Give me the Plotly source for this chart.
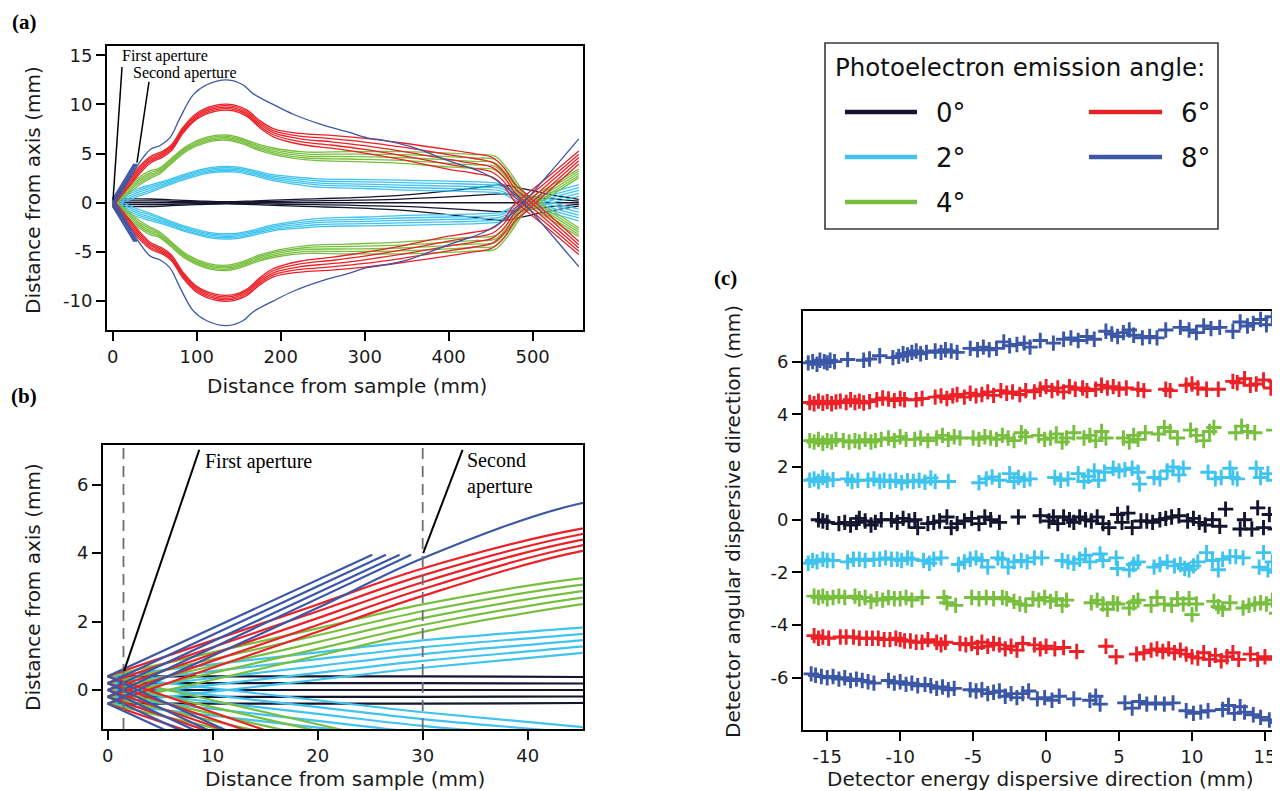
import plotly.graph_objects as go

# the page places the plot 8 px from the top-left corner of the window
OFF = 8
W, H = 1280 - OFF, 791 - OFF

# ---------------- colours ----------------
COL_0 = "#15152f"
COL_2 = "#3fc3ef"
COL_4 = "#79bf3f"
COL_6 = "#ec2127"
COL_8 = "#3b57a6"

# ---------------- ray-trace data (upper branch) ----------------
# five rays per angle, placed inside each band at these fractions of the half-width
RAY_FRAC = [1.0, 0.5, 0.0, -0.5, -1.0]

# 0 deg (single branch)
X_K0 = [0, 10, 20, 30, 45, 70, 100, 135, 170, 200, 240, 280, 343, 400, 440, 465, 490, 520, 555]
C_K0 = [0, 0, 0, 0, 0, 0, 0, 0, 0, 0, 0, 0, 0, 0, 0, 0, 0, 0, 0]
S_K0 = [0.4, 0.4, 0.4, 0.4, 0.38, 0.3, 0.2, 0.1, 0.2, 0.3, 0.4, 0.5, 0.75, 1.2, 1.6, 1.8, 1.4, 0.85, 0.35]

# 2 deg
X_C2 = [0, 10, 20, 30, 45, 64, 88, 116, 144, 167, 191, 223, 247, 300, 343, 400, 440, 462, 480, 500, 555]
C_C2 = [0, 0.35, 0.7, 1.05, 1.45, 2.0, 2.7, 3.3, 3.4, 3.05, 2.55, 2.2, 2.0, 1.9, 1.8, 1.7, 1.6, 1.45, 0.7, 0.05, -1.25]
S_C2 = [0.4, 0.4, 0.4, 0.4, 0.37, 0.28, 0.27, 0.27, 0.27, 0.27, 0.3, 0.38, 0.42, 0.45, 0.5, 0.5, 0.5, 0.48, 0.45, 0.5, 0.6]

# 4 deg
X_G4 = [0, 10, 20, 30, 45, 55, 68, 88, 112, 136, 155, 175, 199, 231, 280, 343, 400, 430, 455, 470, 490, 510, 555]
C_G4 = [0, 0.7, 1.4, 2.1, 2.88, 3.2, 4.1, 5.5, 6.4, 6.62, 6.25, 5.6, 5.1, 4.75, 4.7, 4.6, 4.35, 4.2, 4.05, 2.8, 0.5, -0.6, -3.0]
S_G4 = [0.4, 0.4, 0.4, 0.4, 0.38, 0.3, 0.27, 0.27, 0.27, 0.27, 0.27, 0.3, 0.34, 0.4, 0.5, 0.6, 0.7, 0.7, 0.7, 0.65, 0.6, 0.55, 0.45]

# 6 deg
X_R6 = [0, 10, 20, 30, 45, 60, 70, 84, 100, 122, 144, 160, 175, 192, 223, 260, 300, 343, 400, 430, 452, 466, 478, 490, 520, 555]
C_R6 = [0, 1.05, 2.1, 3.15, 4.38, 4.95, 5.6, 7.4, 8.8, 9.6, 9.65, 9.1, 8.0, 7.1, 6.5, 6.2, 5.8, 5.25, 4.4, 4.0, 3.6, 2.6, 1.1, 0.2, -2.0, -4.6]
S_R6 = [0.4, 0.4, 0.4, 0.4, 0.33, 0.3, 0.3, 0.3, 0.3, 0.3, 0.3, 0.32, 0.36, 0.42, 0.55, 0.65, 0.75, 0.85, 1.0, 1.0, 1.0, 0.95, 0.9, 0.85, 0.75, 0.65]

# 8 deg: four rays stopped before the second aperture, one transmitted
B8_BLOCK_Y0 = [0.4, 0.2, 0.0, -0.2]
B8_BLOCK_XEND = [25.2, 26.5, 27.8, 28.9]
B8_BLOCK_YEND = 3.95
X_B8 = [0, 10, 20, 30, 45, 56, 68, 80, 96, 112, 136, 155, 167, 191, 215, 247, 280, 303, 323, 355, 402, 442, 470, 489, 520, 555]
Y_B8 = [-0.4, 1.0, 2.4, 3.85, 5.45, 5.8, 6.6, 8.6, 11.0, 12.0, 12.5, 12.0, 11.1, 10.0, 9.0, 8.0, 7.2, 6.6, 6.35, 5.7, 4.2, 3.0, 1.5, 0.0, -3.0, -6.5]

# ---------------- detector image data (panel c) ----------------
C_P8 = [(-16.3, 5.95), (-16.0, 6.0), (-15.7, 5.9), (-15.5, 6.05), (-15.2, 6.0), (-15.0, 5.95), (-14.8, 6.05), (-14.5, 6.0),
        (-13.6, 6.08), (-12.5, 6.05), (-12.1, 6.1), (-11.4, 6.22),
        (-10.5, 6.15), (-10.1, 6.2), (-9.8, 6.3), (-9.5, 6.25), (-9.2, 6.35), (-8.9, 6.4), (-8.6, 6.3), (-8.2, 6.35),
        (-7.6, 6.4), (-7.2, 6.35), (-6.9, 6.45), (-6.5, 6.4), (-6.1, 6.35),
        (-5.2, 6.5), (-4.7, 6.45), (-4.3, 6.55), (-3.9, 6.45), (-3.4, 6.5),
        (-2.9, 6.75), (-2.5, 6.6), (-2.0, 6.65), (-1.5, 6.7), (-1.1, 6.55),
        (-0.4, 6.8), (0.5, 6.7), (1.2, 6.85), (1.7, 6.9), (2.2, 6.8), (2.8, 6.95), (3.3, 6.85),
        (4.1, 7.15), (4.5, 7.05), (4.9, 6.95), (5.3, 7.1), (5.7, 7.2), (6.0, 7.0),
        (6.6, 6.9), (7.1, 6.95), (7.6, 6.9), (8.2, 7.2),
        (9.2, 7.3), (9.8, 7.2), (10.3, 7.1), (10.8, 7.35), (11.3, 7.25), (11.9, 7.3),
        (12.8, 7.15), (13.3, 7.5), (13.8, 7.35), (14.2, 7.45), (14.7, 7.6), (15.1, 7.4), (15.5, 7.7)]

C_P6 = [(-16.2, 4.45), (-15.9, 4.4), (-15.6, 4.5), (-15.3, 4.42), (-15.0, 4.48), (-14.7, 4.4), (-14.4, 4.47), (-14.1, 4.5),
        (-13.7, 4.45), (-13.4, 4.55), (-13.1, 4.45), (-12.8, 4.5), (-12.5, 4.43), (-12.1, 4.48),
        (-11.6, 4.55), (-11.2, 4.62), (-10.8, 4.58), (-10.4, 4.52), (-10.0, 4.6), (-9.7, 4.55),
        (-8.9, 4.55), (-8.5, 4.6),
        (-7.6, 4.65), (-7.2, 4.7), (-6.8, 4.6), (-6.4, 4.7), (-6.1, 4.75),
        (-5.6, 4.65), (-5.2, 4.8), (-4.8, 4.7), (-4.4, 4.75), (-4.0, 4.85), (-3.6, 4.72),
        (-3.1, 4.9), (-2.7, 4.8), (-2.3, 4.85), (-1.8, 4.75), (-1.4, 4.9),
        (-0.8, 4.85), (-0.4, 4.95), (0.0, 5.05), (0.4, 4.9), (0.8, 5.0), (1.2, 4.85), (1.6, 5.05), (2.0, 4.95), (2.5, 5.0), (2.8, 4.9),
        (3.4, 4.95), (3.8, 5.1), (4.2, 5.0), (4.6, 5.05), (5.0, 4.95), (5.5, 5.0),
        (6.3, 4.95), (6.7, 4.9), (8.2, 4.95), (8.5, 4.9),
        (9.6, 5.1), (10.0, 5.15), (10.4, 5.0), (11.0, 4.95), (11.8, 4.95),
        (12.8, 5.25), (13.1, 5.2), (13.6, 5.35), (14.0, 5.1), (14.4, 5.15), (14.9, 5.3), (15.4, 5.0), (15.7, 5.25)]

C_P4 = [(-16.2, 3.0), (-15.9, 2.95), (-15.6, 3.05), (-15.3, 2.9), (-15.0, 3.0), (-14.7, 2.95), (-14.4, 3.05),
        (-13.9, 3.0), (-13.5, 2.95), (-13.1, 3.0),
        (-12.8, 2.95), (-12.4, 3.05), (-12.0, 2.95), (-11.7, 3.0), (-11.3, 3.05),
        (-10.8, 3.1), (-10.4, 3.0), (-10.0, 3.15), (-9.6, 3.05),
        (-9.0, 3.05), (-8.6, 3.1), (-8.1, 3.0),
        (-7.5, 3.1), (-7.1, 3.2), (-6.7, 3.05), (-6.3, 3.15), (-5.9, 3.1),
        (-5.0, 3.1), (-4.6, 3.05), (-4.2, 3.15), (-3.8, 3.1), (-3.4, 3.05),
        (-3.0, 3.2), (-2.6, 3.1), (-2.2, 3.0), (-1.7, 3.3), (-1.4, 3.15),
        (-0.5, 3.2), (-0.1, 3.05), (0.3, 3.1), (0.7, 3.25), (1.1, 2.95), (1.4, 3.1), (1.9, 3.3),
        (2.6, 3.1), (3.0, 3.2), (3.4, 3.0), (3.8, 3.35), (4.1, 3.1),
        (5.3, 3.1), (5.7, 2.95), (6.0, 3.2), (6.3, 3.05), (6.8, 3.3),
        (7.7, 3.25), (8.1, 3.5), (8.5, 3.35), (9.0, 3.1),
        (9.9, 3.4), (10.3, 3.2), (10.8, 3.0), (11.2, 3.35), (11.5, 3.5),
        (13.0, 3.3), (13.4, 3.55), (13.8, 3.35), (14.3, 3.3), (15.6, 3.4)]

C_P2 = [(-16.2, 1.5), (-15.9, 1.55), (-15.6, 1.45), (-15.3, 1.6), (-15.0, 1.5), (-14.6, 1.52),
        (-13.6, 1.55), (-13.3, 1.45), (-12.9, 1.5),
        (-12.2, 1.5), (-11.8, 1.55), (-11.4, 1.45), (-11.1, 1.5),
        (-10.7, 1.45), (-10.3, 1.5), (-9.9, 1.4), (-9.5, 1.48), (-9.1, 1.45), (-8.7, 1.5), (-8.3, 1.42), (-7.9, 1.58), (-7.6, 1.45),
        (-6.7, 1.45), (-4.6, 1.4), (-4.1, 1.55), (-3.7, 1.62), (-3.2, 1.5),
        (-2.5, 1.75), (-2.2, 1.45), (-1.9, 1.6), (-1.5, 1.5), (-1.1, 1.55),
        (0.6, 1.6), (1.0, 1.5), (1.5, 1.55),
        (2.2, 1.75), (2.6, 1.45), (2.9, 1.65), (3.3, 1.85), (3.6, 1.5), (4.0, 1.8),
        (4.6, 1.95), (5.0, 1.85), (5.4, 1.9), (5.9, 1.95), (6.3, 1.8), (6.4, 1.35),
        (7.4, 1.6), (7.8, 1.55), (8.3, 1.85), (8.7, 2.0), (9.1, 1.7), (9.4, 1.95),
        (11.1, 1.8), (11.6, 1.55), (12.0, 1.6), (12.6, 1.95), (12.8, 1.6), (13.1, 1.55),
        (14.4, 1.95), (14.7, 1.6), (15.2, 1.75), (15.6, 1.5)]

C_Z0 = [(-15.6, 0.0), (-15.3, -0.05), (-15.0, -0.1),
        (-14.2, -0.15), (-13.8, -0.1), (-13.4, -0.2), (-13.0, -0.1),
        (-12.8, 0.05), (-12.4, -0.05), (-12.0, -0.2), (-11.7, -0.1), (-11.3, 0.0),
        (-10.6, 0.0), (-10.2, -0.1), (-9.8, 0.05), (-9.4, -0.05), (-9.0, 0.0), (-8.8, -0.3),
        (-8.1, -0.15), (-7.7, -0.1), (-7.3, -0.05), (-6.8, 0.1), (-6.5, -0.3),
        (-6.1, -0.15), (-5.6, -0.05), (-5.1, 0.05), (-4.6, -0.15), (-4.2, 0.1), (-3.8, 0.0),
        (-3.2, -0.1), (-1.9, 0.1),
        (-0.4, 0.15), (0.2, -0.05), (0.5, 0.1), (0.8, -0.15), (1.2, 0.1), (1.6, 0.0), (1.9, -0.1),
        (2.3, 0.1), (2.7, 0.0), (3.1, -0.05), (3.5, 0.1), (3.9, -0.15), (4.3, -0.3),
        (4.9, 0.2), (5.2, -0.1), (5.6, 0.25), (5.9, -0.3),
        (6.5, -0.05), (6.9, -0.05), (7.3, -0.1), (7.8, 0.0), (8.2, 0.05), (8.6, 0.1), (9.1, 0.15),
        (9.7, -0.05), (10.1, 0.05), (10.5, -0.1), (10.9, -0.2), (11.4, 0.0), (11.9, -0.25), (12.3, 0.4),
        (13.3, -0.35), (13.6, 0.0), (14.1, -0.35), (14.5, 0.45), (14.9, -0.3), (15.3, 0.2), (15.7, -0.35)]

C_M2 = [(-16.3, -1.65), (-16.0, -1.55), (-15.7, -1.6), (-15.3, -1.5), (-15.0, -1.55), (-14.6, -1.55),
        (-13.6, -1.6), (-13.2, -1.5), (-12.8, -1.5), (-12.4, -1.55),
        (-11.8, -1.5), (-11.4, -1.5), (-11.0, -1.45), (-10.6, -1.5), (-10.2, -1.5), (-9.9, -1.55), (-9.5, -1.45), (-9.2, -1.5),
        (-8.4, -1.55), (-8.0, -1.65), (-7.7, -1.5), (-7.2, -1.45),
        (-6.0, -1.7), (-5.6, -1.6), (-5.2, -1.5), (-4.8, -1.45), (-4.4, -1.55), (-4.0, -1.8),
        (-3.3, -1.45), (-3.0, -1.5), (-2.6, -1.8), (-2.2, -1.6), (-1.7, -1.55), (-1.3, -1.6),
        (-0.8, -1.45), (-0.3, -1.45),
        (1.1, -1.55), (1.5, -1.6), (1.9, -1.65), (2.3, -1.5), (2.7, -1.35), (3.0, -1.6),
        (3.7, -1.3), (3.9, -1.55), (4.8, -1.45), (4.9, -1.85),
        (5.7, -1.9), (6.0, -1.7), (6.3, -1.6),
        (7.4, -1.8), (7.8, -1.7), (8.3, -1.6), (8.8, -1.75), (9.2, -1.7), (9.5, -1.85), (9.8, -1.9), (10.1, -1.75), (10.4, -1.6),
        (11.0, -1.25), (11.4, -1.55), (11.8, -1.9), (12.1, -1.5), (12.6, -1.4), (13.0, -1.4), (13.5, -1.45),
        (14.6, -1.8), (14.9, -1.25), (15.2, -1.9), (15.5, -1.6), (15.8, -2.0)]

C_M4 = [(-15.9, -2.9), (-15.6, -2.95), (-15.3, -2.9), (-15.0, -3.0), (-14.6, -2.95), (-14.2, -2.9), (-13.8, -2.95),
        (-13.1, -2.9), (-12.8, -3.0), (-12.4, -2.95), (-12.0, -3.1), (-11.6, -3.0),
        (-11.2, -3.05), (-10.8, -2.95), (-10.4, -3.0), (-10.0, -3.0), (-9.6, -2.95), (-9.2, -3.05),
        (-8.5, -2.95), (-7.0, -2.95), (-6.8, -3.15), (-6.2, -3.25),
        (-5.1, -2.95), (-4.6, -3.0), (-4.1, -2.95), (-3.6, -3.0), (-3.0, -2.95), (-2.7, -3.0),
        (-2.2, -3.1), (-1.8, -3.2), (-1.4, -3.25),
        (-0.9, -3.0), (-0.5, -3.05), (-0.1, -2.95), (0.3, -3.1), (0.7, -3.0), (1.1, -3.25), (1.4, -3.05),
        (3.1, -3.15), (3.5, -3.05), (3.9, -3.2), (4.2, -3.4), (4.6, -3.15), (4.9, -3.2),
        (5.7, -3.35), (6.0, -3.15), (6.3, -3.05),
        (7.2, -3.25), (7.6, -2.95), (8.1, -3.2), (8.6, -3.25), (9.0, -3.0), (9.4, -3.2), (9.8, -3.0), (10.0, -3.6), (10.3, -3.2),
        (11.5, -3.1), (11.8, -3.3), (12.1, -3.4), (12.6, -3.15),
        (13.5, -3.35), (13.9, -3.25), (14.3, -3.2), (14.7, -3.15), (15.1, -3.2), (15.5, -3.05), (15.8, -3.55)]

C_M6 = [(-15.9, -4.4), (-15.6, -4.5), (-15.3, -4.45), (-14.9, -4.5),
        (-14.1, -4.45), (-13.7, -4.45), (-13.2, -4.45), (-12.8, -4.5),
        (-12.3, -4.5), (-11.9, -4.5), (-11.5, -4.5), (-11.1, -4.55), (-10.7, -4.55), (-10.3, -4.5), (-10.0, -4.55),
        (-9.7, -4.6), (-9.3, -4.6), (-8.9, -4.65), (-8.5, -4.65), (-8.1, -4.55),
        (-7.5, -4.65), (-7.2, -4.75), (-6.9, -4.65),
        (-5.9, -4.7), (-5.5, -4.75), (-5.1, -4.7), (-4.7, -4.85),
        (-4.4, -4.65), (-4.0, -4.8), (-3.6, -4.7), (-3.2, -4.75), (-2.8, -4.9), (-2.4, -4.8), (-2.0, -4.95), (-1.6, -4.7),
        (-0.8, -4.75), (-0.4, -4.9), (0.0, -4.8), (0.6, -4.9), (1.2, -4.85), (2.1, -5.0),
        (4.1, -4.8), (4.8, -5.2), (6.2, -5.1), (6.7, -5.05), (7.2, -4.95),
        (7.6, -4.9), (8.0, -5.0), (8.4, -4.9), (8.8, -5.05), (9.2, -4.95),
        (9.6, -5.1), (10.0, -5.2), (10.4, -5.25), (10.8, -5.05), (11.2, -5.3), (11.6, -5.15), (12.0, -5.35), (12.4, -5.2), (12.8, -5.05), (13.2, -5.3),
        (14.0, -5.1), (14.5, -5.3), (15.0, -5.2), (15.6, -5.3)]

C_M8 = [(-16.1, -5.85), (-15.8, -5.9), (-15.4, -5.95),
        (-15.0, -6.0), (-14.6, -5.95), (-14.2, -6.05), (-13.8, -6.0), (-13.4, -6.1), (-13.0, -6.05), (-12.6, -6.1), (-12.2, -6.15), (-11.8, -6.2),
        (-10.8, -6.1), (-10.4, -6.2), (-10.0, -6.15), (-9.6, -6.25), (-9.2, -6.2), (-8.8, -6.3),
        (-8.3, -6.25), (-7.9, -6.3), (-7.5, -6.4), (-7.1, -6.35), (-6.7, -6.45), (-6.3, -6.4),
        (-5.2, -6.45), (-4.8, -6.5), (-4.4, -6.45), (-4.0, -6.6), (-3.6, -6.55),
        (-3.2, -6.5), (-2.8, -6.7), (-2.4, -6.6), (-2.0, -6.75), (-1.6, -6.6), (-1.2, -6.5),
        (-0.6, -6.8), (-0.1, -6.75), (0.4, -6.85), (0.9, -6.7),
        (1.9, -6.8), (3.0, -6.85), (3.4, -6.7), (3.7, -7.0),
        (5.4, -6.95), (5.9, -7.15), (6.4, -6.9), (6.9, -7.0), (7.5, -6.95), (8.1, -7.0), (8.7, -6.95),
        (9.6, -7.25), (10.1, -7.35), (10.6, -7.3), (11.1, -7.25),
        (12.1, -7.2), (12.5, -7.05), (12.9, -7.35), (13.3, -7.1), (13.6, -7.3),
        (14.2, -7.4), (14.7, -7.5), (15.3, -7.6), (15.8, -7.7)]

# tick values / labels
TICKS_A_X = [0, 100, 200, 300, 400, 500]
TICKS_A_Y = [-10, -5, 0, 5, 10, 15]
TICKS_B_X = [0, 10, 20, 30, 40]
TICKS_B_Y = [0, 2, 4, 6]
TICKS_C_X = [-15, -10, -5, 0, 5, 10, 15]
TICKS_C_Y = [-6, -4, -2, 0, 2, 4, 6]

LEGEND_LABELS = ["0°", "2°", "4°", "6°", "8°"]
LEGEND_TITLE = "Photoelectron emission angle:"

# ---------------- helpers ----------------
def band(X, C, S, mirror=True):
    xs, ys = [], []
    for sg in ([1, -1] if mirror else [1]):
        for f in RAY_FRAC:
            xs += list(X) + [None]
            ys += [sg * (c + f * s) for c, s in zip(C, S)] + [None]
    return xs, ys


def blue_rays():
    xs, ys = [], []
    for sg in (1, -1):
        for y0, xe in zip(B8_BLOCK_Y0, B8_BLOCK_XEND):
            xs += [0, xe, None]
            ys += [sg * y0, sg * B8_BLOCK_YEND, None]
        xs += list(X_B8) + [None]
        ys += [sg * v for v in Y_B8] + [None]
    return xs, ys


groups = [
    (band(X_K0, C_K0, S_K0, mirror=False), COL_0),
    (band(X_C2, C_C2, S_C2), COL_2),
    (band(X_G4, C_G4, S_G4), COL_4),
    (band(X_R6, C_R6, S_R6), COL_6),
    (blue_rays(), COL_8),
]

fig = go.Figure()

for (xs, ys), col in groups:
    fig.add_trace(go.Scatter(x=xs, y=ys, mode="lines", xaxis="x", yaxis="y",
                             line=dict(color=col, width=1.3, shape="spline", smoothing=1.0),
                             hoverinfo="skip", showlegend=False))
for (xs, ys), col in groups:
    fig.add_trace(go.Scatter(x=xs, y=ys, mode="lines", xaxis="x2", yaxis="y2",
                             line=dict(color=col, width=2.2, shape="spline", smoothing=1.0),
                             hoverinfo="skip", showlegend=False))

rows = [(C_P8, COL_8), (C_P6, COL_6), (C_P4, COL_4), (C_P2, COL_2), (C_Z0, COL_0),
        (C_M2, COL_2), (C_M4, COL_4), (C_M6, COL_6), (C_M8, COL_8)]
for pts, col in rows:
    fig.add_trace(go.Scatter(x=[p[0] for p in pts], y=[p[1] for p in pts], mode="markers",
                             xaxis="x3", yaxis="y3",
                             marker=dict(symbol="cross-thin", size=11, line=dict(color=col, width=2.9)),
                             hoverinfo="skip", showlegend=False))

# ---------------- axes ----------------
FONT = "DejaVu Sans"
SERIF = "Liberation Serif"
ax = dict(showline=True, linecolor="black", linewidth=2, ticks="outside", ticklen=9, tickwidth=1.5,
          tickcolor="black", showgrid=False, zeroline=False,
          tickfont=dict(family=FONT, size=18, color="#1a1a1a"))


def lab(vals):
    return [str(v) for v in vals]


def px(p):
    return (p - OFF) / W


def py(p):
    return 1 - (p - OFF) / H


fig.update_layout(
    width=W, height=H, margin=dict(l=0, r=0, t=0, b=0),
    paper_bgcolor="white", plot_bgcolor="white", showlegend=False,
    xaxis=dict(ax, domain=[px(107), px(583)], range=[-6.8, 560], tickvals=TICKS_A_X, ticktext=lab(TICKS_A_X),
               anchor="y", mirror=True),
    yaxis=dict(ax, domain=[py(330), py(46)], range=[-12.94, 15.94], tickvals=TICKS_A_Y, ticktext=lab(TICKS_A_Y),
               anchor="x", mirror=True),
    xaxis2=dict(ax, domain=[px(103), px(583)], range=[-0.45, 45.27], tickvals=TICKS_B_X, ticktext=lab(TICKS_B_X),
                anchor="y2", mirror=True),
    yaxis2=dict(ax, domain=[py(729), py(445)], range=[-1.14, 7.16], tickvals=TICKS_B_Y, ticktext=lab(TICKS_B_Y),
                anchor="x2", mirror=True),
    xaxis3=dict(ax, domain=[px(803), 1.0], range=[-16.66, 16.03], tickvals=TICKS_C_X, ticktext=lab(TICKS_C_X),
                anchor="y3", mirror=True),
    yaxis3=dict(ax, domain=[py(730), py(311)], range=[-7.98, 7.92], tickvals=TICKS_C_Y, ticktext=lab(TICKS_C_Y),
                anchor="x3", mirror=False),
)

shapes = []
annotations = []

# aperture pointer lines (a)
shapes.append(dict(type="line", xref="x", yref="y", x0=11.1, y0=13.8, x1=0.4, y1=0.33,
                   line=dict(color="black", width=1.5)))
shapes.append(dict(type="line", xref="x", yref="y", x0=43.2, y0=12.3, x1=28.9, y1=4.07,
                   line=dict(color="black", width=1.5)))
annotations.append(dict(xref="x", yref="y", x=8.7, y=14.95, text="First aperture", showarrow=False,
                        xanchor="left", yanchor="middle", font=dict(family=SERIF, size=16, color="black")))
annotations.append(dict(xref="x", yref="y", x=21.8, y=13.15, text="Second aperture", showarrow=False,
                        xanchor="left", yanchor="middle", font=dict(family=SERIF, size=16, color="black")))

# dashed aperture positions (b)
for xv in (1.5, 30):
    shapes.append(dict(type="line", xref="x2", yref="y2 domain", x0=xv, x1=xv, y0=0, y1=1,
                       line=dict(color="#6e6e6e", width=1.8, dash="11px,7px"), layer="above"))
shapes.append(dict(type="line", xref="x2", yref="y2", x0=8.72, y0=7.02, x1=1.55, y1=0.55,
                   line=dict(color="black", width=2)))
shapes.append(dict(type="line", xref="x2", yref="y2", x0=33.8, y0=7.02, x1=30.05, y1=4.0,
                   line=dict(color="black", width=2)))
annotations.append(dict(xref="x2", yref="y2", x=9.1, y=6.67, text="First aperture", showarrow=False,
                        xanchor="left", yanchor="middle", font=dict(family=SERIF, size=20, color="black")))
annotations.append(dict(xref="x2", yref="y2", x=34.0, y=6.32, text="Second<br>aperture", showarrow=False,
                        xanchor="left", yanchor="middle", align="left",
                        font=dict(family=SERIF, size=20, color="black")))

# axis titles
TF = dict(family=FONT, size=20, color="#1a1a1a")
annotations += [
    dict(xref="paper", yref="paper", x=px(347), y=py(386), text="Distance from sample (mm)", showarrow=False,
         xanchor="center", yanchor="middle", font=TF),
    dict(xref="paper", yref="paper", x=px(33), y=py(190), text="Distance from axis (mm)", showarrow=False,
         textangle=-90, xanchor="center", yanchor="middle", font=TF),
    dict(xref="paper", yref="paper", x=px(345), y=py(779), text="Distance from sample (mm)", showarrow=False,
         xanchor="center", yanchor="middle", font=TF),
    dict(xref="paper", yref="paper", x=px(33), y=py(587), text="Distance from axis (mm)", showarrow=False,
         textangle=-90, xanchor="center", yanchor="middle", font=TF),
    dict(xref="paper", yref="paper", x=px(1040), y=py(779), text="Detector energy dispersive direction (mm)",
         showarrow=False, xanchor="center", yanchor="middle", font=TF),
    dict(xref="paper", yref="paper", x=px(733), y=py(522), text="Detector angular dispersive direction (mm)",
         showarrow=False, textangle=-90, xanchor="center", yanchor="middle", font=TF),
]

# panel labels
PL = dict(family=SERIF, size=21, color="black")
for txt, xx, yy in (("(a)", 24, 22), ("(b)", 24, 396), ("(c)", 725, 278)):
    annotations.append(dict(xref="paper", yref="paper", x=px(xx), y=py(yy), text="<b>%s</b>" % txt,
                            showarrow=False, xanchor="center", yanchor="middle", font=PL))

# legend box (drawn)
shapes.append(dict(type="rect", xref="paper", yref="paper", x0=px(825), x1=px(1218), y0=py(229), y1=py(43),
                   line=dict(color="#3a3a3a", width=1.6), fillcolor="white", layer="below"))
annotations.append(dict(xref="paper", yref="paper", x=px(833), y=py(67), text=LEGEND_TITLE, showarrow=False,
                        xanchor="left", yanchor="middle", font=dict(family=FONT, size=24.5, color="#111")))
leg_cols = [COL_0, COL_2, COL_4, COL_6, COL_8]
leg_pos = [(845, 917, 934, 112), (845, 917, 934, 157), (845, 917, 934, 202),
           (1089, 1162, 1179, 112), (1089, 1162, 1179, 157)]
for txt, col, (lx0, lx1, tx, ly) in zip(LEGEND_LABELS, leg_cols, leg_pos):
    shapes.append(dict(type="line", xref="paper", yref="paper", x0=px(lx0), x1=px(lx1), y0=py(ly), y1=py(ly),
                       line=dict(color=col, width=4.5)))
    annotations.append(dict(xref="paper", yref="paper", x=px(tx), y=py(ly + 1), text=txt, showarrow=False,
                            xanchor="left", yanchor="middle", font=dict(family=FONT, size=26, color="#111")))

fig.update_layout(shapes=shapes, annotations=annotations)

fig.write_html("out.html", config={"displayModeBar": False})
